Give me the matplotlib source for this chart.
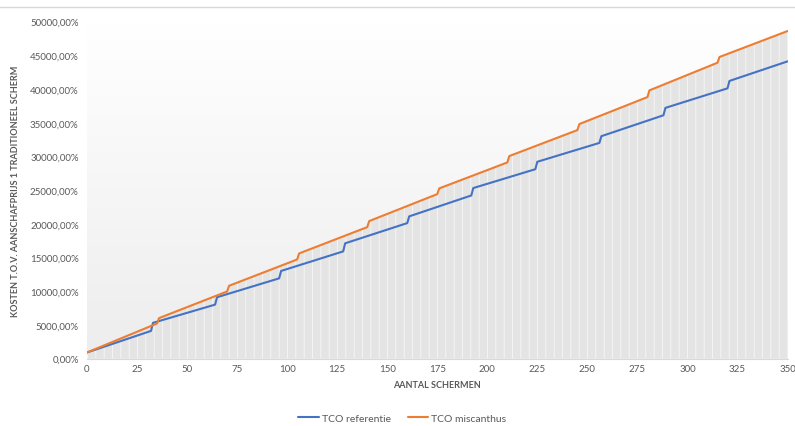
import numpy as np
import matplotlib
matplotlib.use('Agg')
import matplotlib.pyplot as plt
from matplotlib.colors import LinearSegmentedColormap
from matplotlib.lines import Line2D
from matplotlib.ticker import FuncFormatter

# TCO curves: corner points of each straight segment (aantal schermen, kosten in %)
ref_x = [0, 32, 33, 64, 65, 96, 97, 128, 129, 160, 161, 192, 193, 224, 225, 256, 257, 288, 289, 320, 321, 350]
ref_y = [900, 4100, 5300, 8000, 9100, 11900, 13000, 15900, 17100, 20100, 21100, 24200, 25300, 28100,
         29200, 32000, 33000, 36100, 37200, 40100, 41200, 44100]

mis_x = [0, 35, 36, 70, 71, 105, 106, 140, 141, 175, 176, 210, 211, 245, 246, 280, 281, 315, 316, 350]
mis_y = [900, 5200, 6000, 9950, 10800, 14700, 15600, 19500, 20400, 24400, 25250, 29100, 30050, 33900,
         34800, 38800, 39800, 43900, 44750, 48600]

x_ticks = list(range(0, 351, 25))
y_ticks = list(range(0, 50001, 5000))

BLUE = '#4472C4'
ORANGE = '#ED7D31'
TXT = '#595959'

plt.rcParams['font.family'] = ['Lato', 'DejaVu Sans']
plt.rcParams['hatch.linewidth'] = 0.6
plt.rcParams['hatch.color'] = '#f7f7f7'

fig = plt.figure(figsize=(7.95, 4.27), dpi=100)
ax = fig.add_axes([0.1094, 0.158, 0.8812, 0.789])

# soft vertical gradient behind the plot
grad = np.linspace(1, 0, 256).reshape(-1, 1)
cmap = LinearSegmentedColormap.from_list('bg', ['#ededed', '#ffffff'])
ax.imshow(grad, extent=[0, 350, 0, 50000], aspect='auto', cmap=cmap, zorder=0, origin='upper')

# drop-line area under the highest series
ax.fill_between(mis_x, mis_y, 0, facecolor='#e4e4e4', hatch='||', edgecolor='#f7f7f7',
                linewidth=0, zorder=1)

ax.plot(ref_x, ref_y, color=BLUE, lw=1.5, label='TCO referentie', zorder=3, solid_capstyle='round')
ax.plot(mis_x, mis_y, color=ORANGE, lw=1.5, label='TCO miscanthus', zorder=4, solid_capstyle='round')

ax.set_xlim(0, 350)
ax.set_ylim(0, 50000)
ax.set_xticks(x_ticks)
ax.set_yticks(y_ticks)
ax.yaxis.set_major_formatter(FuncFormatter(lambda v, p: f'{v:.2f}'.replace('.', ',') + '%'))
ax.tick_params(length=0, labelsize=7, colors=TXT)
ax.tick_params(axis='x', pad=4)
ax.tick_params(axis='y', pad=6)

for s in ['top', 'right', 'left']:
    ax.spines[s].set_visible(False)
ax.spines['bottom'].set_color('#d9d9d9')
ax.spines['bottom'].set_linewidth(0.8)

ax.set_xlabel('AANTAL SCHERMEN', fontsize=6.5, fontweight='bold', color=TXT, labelpad=5)
ax.set_ylabel('KOSTEN T.O.V. AANSCHAFPRIJS 1 TRADITIONEEL SCHERM', fontsize=6.5,
              fontweight='bold', color=TXT, labelpad=7)

fig.legend(loc='center', bbox_to_anchor=(0.506, 0.018), ncol=2, frameon=False,
           fontsize=7.5, labelcolor=TXT, handlelength=2.0, columnspacing=1.6, handletextpad=0.3)

# thin separator along the top of the figure
fig.add_artist(Line2D([0, 1], [0.982, 0.982], transform=fig.transFigure, color='#d9d9d9', lw=1))

fig.savefig('out.png', dpi=100, facecolor='white')
